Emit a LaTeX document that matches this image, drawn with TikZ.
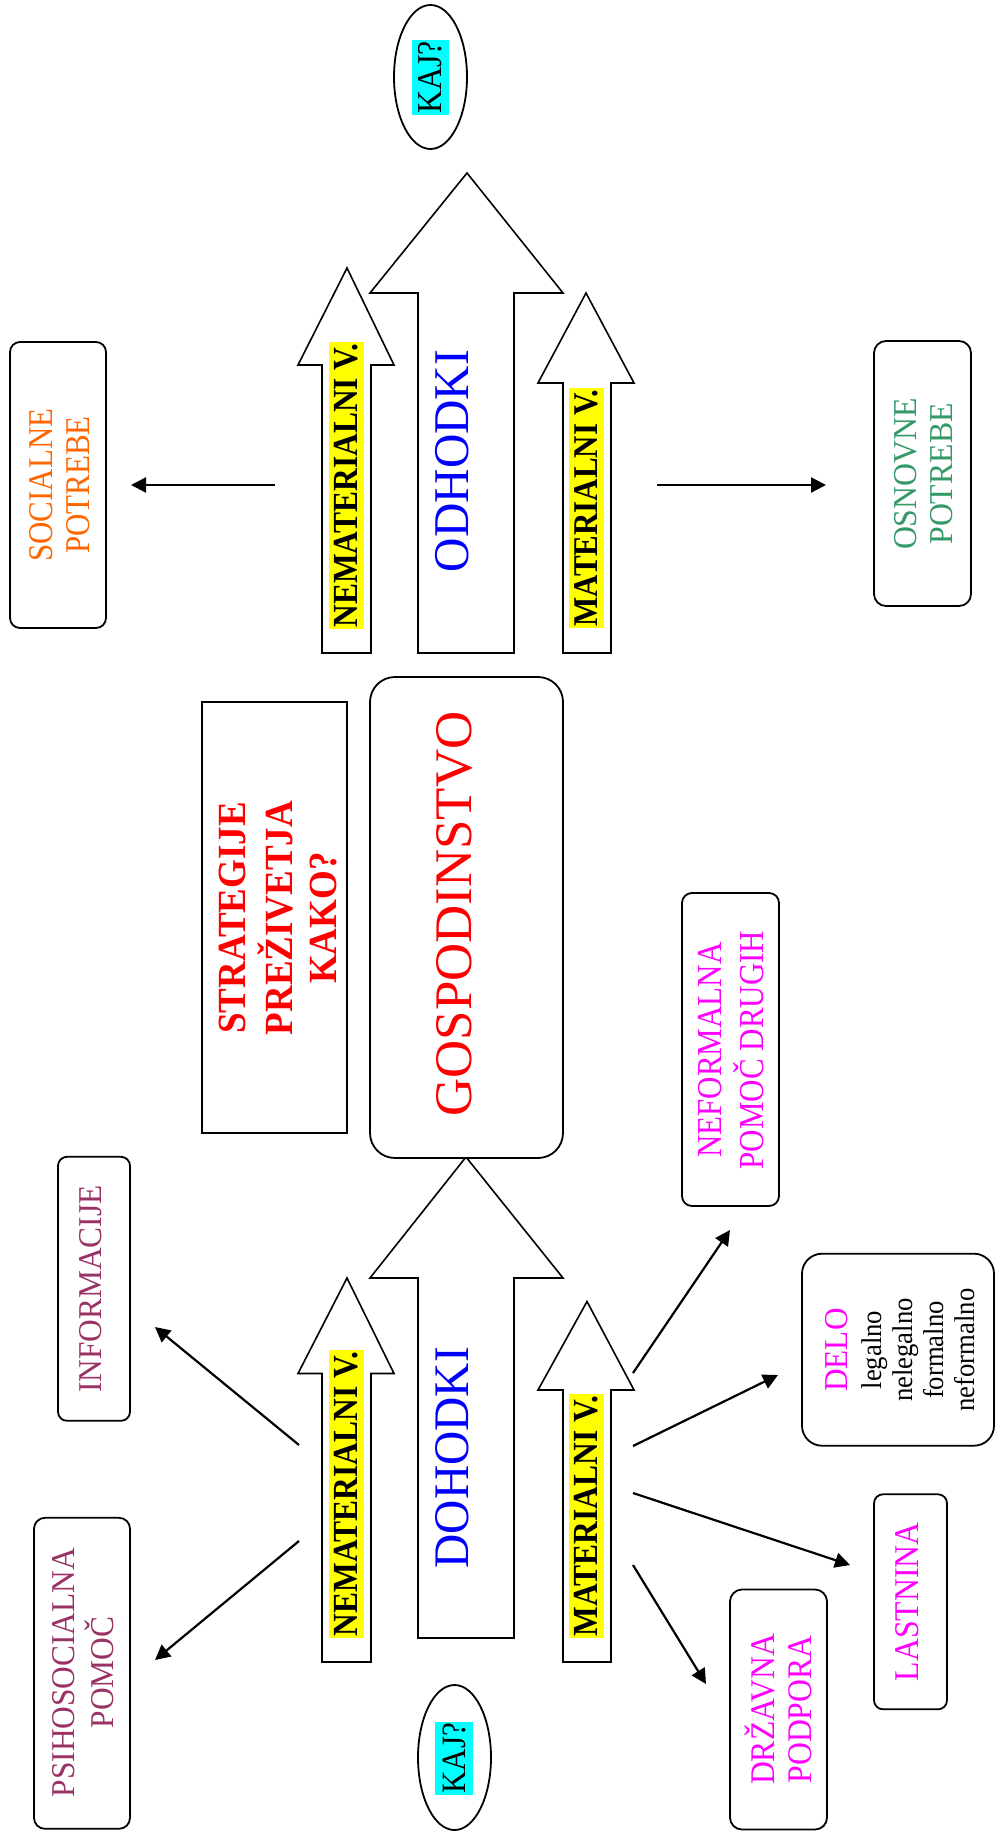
\documentclass[tikz,border=0pt]{standalone}
\usepackage{fontspec}
\setmainfont{Liberation Serif}
\usepackage{graphicx}
\usetikzlibrary{shapes.geometric,arrows.meta}
\definecolor{orangeT}{RGB}{255,102,0}
\definecolor{greenT}{RGB}{51,153,102}
\definecolor{maroonT}{RGB}{153,51,102}
\definecolor{magT}{RGB}{255,0,255}
\definecolor{cyanT}{RGB}{0,255,255}
\definecolor{yellowT}{RGB}{255,255,0}
\newcommand\rt[3]{\fontsize{#1}{#1}\selectfont\scalebox{1}[#2]{#3}}
\newcommand\rtt[4]{\fontsize{#1}{#2}\selectfont\scalebox{1}[#3]{\begin{tabular}{@{}c@{}}#4\end{tabular}}}
\tikzset{
  box/.style={draw, line width=1.8pt, inner sep=0pt},
  rbox/.style={box, rounded corners=#1},
  blockarrow/.style={draw, line width=1.6pt, fill=white, line join=miter},
  vtxt/.style={rotate=90, inner sep=0pt},
  hlY/.style={rotate=90, fill=yellowT, inner xsep=1.5pt, inner ysep=#1},
  hlC/.style={rotate=90, fill=cyanT, inner xsep=1pt, inner ysep=#1},
  conn/.style={line width=2.2pt, -{Triangle[length=15pt,width=15pt]}},
}
\begin{document}
\begin{tikzpicture}[x=1pt,y=-1pt]
\useasboundingbox (0,0) rectangle (1001,1843);
\fill[white] (0,0) rectangle (1001,1843);

% ---- block arrows (top: ODHODKI) ----
\draw[blockarrow] (418,653) -- (418,293) -- (370,293) -- (467,173) -- (563,293) -- (514,293) -- (514,653) -- cycle;
\draw[blockarrow] (322,653) -- (322,365) -- (298,365) -- (347,268) -- (394,365) -- (371,365) -- (371,653) -- cycle;
\draw[blockarrow] (563,653) -- (563,383) -- (538,383) -- (586,293) -- (634,383) -- (611,383) -- (611,653) -- cycle;

% ---- block arrows (bottom: DOHODKI) ----
\draw[blockarrow] (418,1638) -- (418,1278) -- (370,1278) -- (466,1157) -- (563,1278) -- (514,1278) -- (514,1638) -- cycle;
\draw[blockarrow] (322,1662) -- (322,1373.5) -- (298,1373.5) -- (347,1278) -- (394,1373.5) -- (371,1373.5) -- (371,1662) -- cycle;
\draw[blockarrow] (563,1662) -- (563,1390) -- (538,1390) -- (587,1301.5) -- (634,1390) -- (611,1390) -- (611,1662) -- cycle;

% ---- boxes ----
\node[rbox=10pt, minimum width=96pt, minimum height=286pt] (socbox) at (58,485) {};
\node[rbox=12pt, minimum width=97pt, minimum height=265pt] (osnbox) at (922.5,473.5) {};
\node[rbox=25pt, fill=white, minimum width=193pt, minimum height=481pt] (gospbox) at (466.5,917.5) {};
\node[box, minimum width=145pt, minimum height=431pt] (stratbox) at (274.5,917.5) {};
\node[rbox=9pt, minimum width=72pt, minimum height=264pt] (infobox) at (94,1288.8) {};
\node[rbox=11pt, minimum width=96pt, minimum height=311pt] (psibox) at (82,1673.3) {};
\node[rbox=10pt, minimum width=97pt, minimum height=313pt] (nefbox) at (730.5,1049.5) {};
\node[rbox=20pt, minimum width=192pt, minimum height=192pt] (delobox) at (898,1349.7) {};
\node[rbox=9pt, minimum width=73pt, minimum height=215pt] (lastbox) at (910.5,1601.8) {};
\node[rbox=12pt, minimum width=97pt, minimum height=240pt] (drzbox) at (778.5,1709.5) {};

% ---- ellipses ----
\node[draw, ellipse, line width=1.8pt, minimum width=73pt, minimum height=144pt, inner sep=0pt] (kaj1) at (430.5,77) {};
\node[draw, ellipse, line width=1.8pt, minimum width=73pt, minimum height=145pt, inner sep=0pt] (kaj2) at (454.5,1757.5) {};

% ---- texts ----
\node[hlC=7pt] (kaj1t) at (430.5,77.5) {\rt{32}{1.09}{KAJ?}};
\node[hlC=7pt] (kaj2t) at (454,1758.4) {\rt{31}{1.1}{KAJ?}};

\node[vtxt, text=blue] (odh) at (452,461) {\rt{47.6}{1.05}{ODHODKI}};
\node[vtxt, text=blue] (doh) at (452,1457.7) {\rt{47.4}{1.05}{DOHODKI}};

\node[hlY=6pt] (nem1) at (346.5,485.5) {\bfseries\rt{31.5}{1.12}{NEMATERIALNI V.}};
\node[hlY=6pt] (mat1) at (586.5,508) {\bfseries\rt{31}{1.12}{MATERIALNI V.}};
\node[hlY=6pt] (nem2) at (346.5,1494) {\bfseries\rt{31.5}{1.12}{NEMATERIALNI V.}};
\node[hlY=6pt] (mat2) at (586.5,1516) {\bfseries\rt{31.5}{1.12}{MATERIALNI V.}};

\node[vtxt, text=red] (gosp) at (454,914) {\rt{52.8}{1.0}{GOSPODINSTVO}};
\node[vtxt, text=red] (strat) at (282,918) {\bfseries\rtt{37}{40.3}{1.08}{STRATEGIJE\\PREŽIVETJA\\KAKO?}};

\node[vtxt, text=orangeT] (soc) at (63.5,485) {\rtt{31}{33}{1.12}{SOCIALNE\\POTREBE}};
\node[vtxt, text=greenT] (osn) at (927,474) {\rtt{31.8}{34.3}{1.05}{OSNOVNE\\POTREBE}};

\node[vtxt, text=maroonT] (info) at (91,1289) {\rt{31.4}{1.06}{INFORMACIJE}};
\node[vtxt, text=maroonT] (psi) at (86.5,1672.5) {\rtt{31.4}{34}{1.06}{PSIHOSOCIALNA\\POMOČ}};

\node[vtxt, text=magT] (nef) at (735,1050) {\rtt{31}{33.6}{1.13}{NEFORMALNA\\POMOČ DRUGIH}};
\node[vtxt] (delo) at (905,1350) {\rtt{26.7}{29}{1.07}{{\color{magT}\fontsize{31.2}{31.2}\selectfont DELO}\\[2.8pt]legalno\\nelegalno\\formalno\\neformalno}};
\node[vtxt, text=magT] (last) at (907,1601.7) {\rt{31.8}{1.09}{LASTNINA}};
\node[vtxt, text=magT] (drz) at (783.5,1709.5) {\rtt{31.7}{34}{1.09}{DRŽAVNA\\PODPORA}};

% ---- connector end points ----
\coordinate (c1s) at (275,485);  \coordinate (c1e) at (131,485);
\coordinate (c2s) at (657,485);  \coordinate (c2e) at (826,485);
\coordinate (c3s) at (299,1445); \coordinate (c3e) at (155,1327);
\coordinate (c4s) at (299,1541); \coordinate (c4e) at (155,1660);
\coordinate (c5s) at (633,1373); \coordinate (c5e) at (730,1230);
\coordinate (c6s) at (633,1446); \coordinate (c6e) at (778,1375);
\coordinate (c7s) at (633,1493); \coordinate (c7e) at (850,1565);
\coordinate (c8s) at (633,1565); \coordinate (c8e) at (706,1684);

\draw[conn] (c1s) -- (c1e);
\draw[conn] (c2s) -- (c2e);
\draw[conn] (c3s) -- (c3e);
\draw[conn] (c4s) -- (c4e);
\draw[conn] (c5s) -- (c5e);
\draw[conn] (c6s) -- (c6e);
\draw[conn] (c7s) -- (c7e);
\draw[conn] (c8s) -- (c8e);
\end{tikzpicture}
\end{document}
